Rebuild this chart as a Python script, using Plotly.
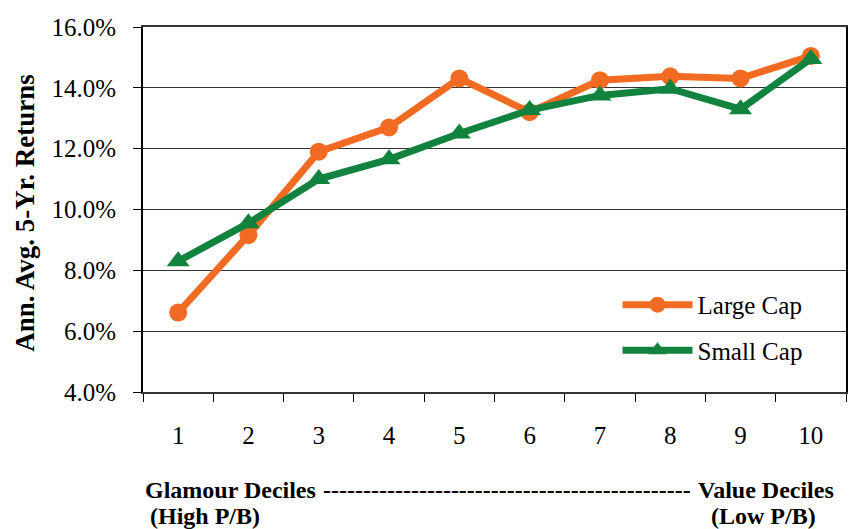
import plotly.graph_objects as go

deciles = ["1", "2", "3", "4", "5", "6", "7", "8", "9", "10"]
large_cap = [6.61, 9.16, 11.90, 12.70, 14.31, 13.20, 14.25, 14.38, 14.31, 15.05]
small_cap = [8.30, 9.55, 11.00, 11.65, 12.50, 13.27, 13.75, 13.97, 13.30, 14.95]
y_ticks = [4, 6, 8, 10, 12, 14, 16]
y_ticktext = [f"{v:.1f}%" for v in y_ticks]

ORANGE = "#F26B22"
GREEN = "#11833E"
SERIF = "Liberation Serif, Times New Roman, serif"

fig = go.Figure()
fig.add_trace(go.Scatter(
    x=deciles, y=large_cap, name="Large Cap", mode="lines+markers",
    line=dict(color=ORANGE, width=7),
    marker=dict(symbol="circle", size=18, color=ORANGE),
    legendgroup="a",
))
fig.add_trace(go.Scatter(
    x=deciles, y=small_cap, name="Small Cap", mode="lines+markers",
    line=dict(color=GREEN, width=7),
    marker=dict(symbol="triangle-up", size=20, color=GREEN),
    legendgroup="b",
))

fig.update_layout(
    width=850, height=529,
    margin=dict(l=143, r=2, t=27, b=137),
    paper_bgcolor="white", plot_bgcolor="white",
    font=dict(family=SERIF, size=25, color="black"),
    showlegend=True,
    legend=dict(
        x=0.675, y=0.177, xanchor="left", yanchor="middle",
        bgcolor="rgba(0,0,0,0)", font=dict(size=25, family=SERIF),
        traceorder="grouped", tracegroupgap=10, itemwidth=70,
    ),
)

fig.update_yaxes(
    range=[4, 16], tickvals=y_ticks, ticktext=y_ticktext,
    showgrid=True, gridcolor="#333333", gridwidth=1,
    showline=True, linecolor="black", linewidth=2, mirror=True,
    ticks="outside", ticklen=8, tickcolor="black",
    ticklabelstandoff=12, zeroline=False,
)
fig.update_xaxes(
    type="category", tickson="boundaries", range=[-0.5, 9.5],
    showline=True, linecolor="#333333", linewidth=2, mirror=True,
    ticks="outside", ticklen=8, tickcolor="black",
    ticklabelstandoff=20, showgrid=False,
)

fig.add_annotation(
    text="<b>Ann. Avg. 5-Yr. Returns</b>", textangle=-90,
    xref="paper", yref="paper", x=-0.167, y=0.49,
    xanchor="center", yanchor="middle", showarrow=False,
    font=dict(family=SERIF, size=27, color="black"),
)
bottom_font = dict(family=SERIF, size=24, color="black")
fig.add_annotation(
    text="<b>Glamour Deciles</b>",
    xref="paper", yref="paper", x=0.0, y=-0.268,
    xanchor="left", yanchor="middle", showarrow=False, font=bottom_font,
)
fig.add_annotation(
    text="<b>" + "-" * 46 + "</b>",
    xref="paper", yref="paper", x=0.518, y=-0.268,
    xanchor="center", yanchor="middle", showarrow=False, font=bottom_font,
)
fig.add_annotation(
    text="<b>Value Deciles</b>",
    xref="paper", yref="paper", x=0.986, y=-0.268,
    xanchor="right", yanchor="middle", showarrow=False, font=bottom_font,
)
fig.add_annotation(
    text="<b>(High P/B)</b>",
    xref="paper", yref="paper", x=0.007, y=-0.34,
    xanchor="left", yanchor="middle", showarrow=False, font=bottom_font,
)
fig.add_annotation(
    text="<b>(Low P/B)</b>",
    xref="paper", yref="paper", x=0.960, y=-0.34,
    xanchor="right", yanchor="middle", showarrow=False, font=bottom_font,
)

fig.write_html(
    "out.html",
    config={"displayModeBar": False},
    post_script="document.body.style.margin='0';",
)
